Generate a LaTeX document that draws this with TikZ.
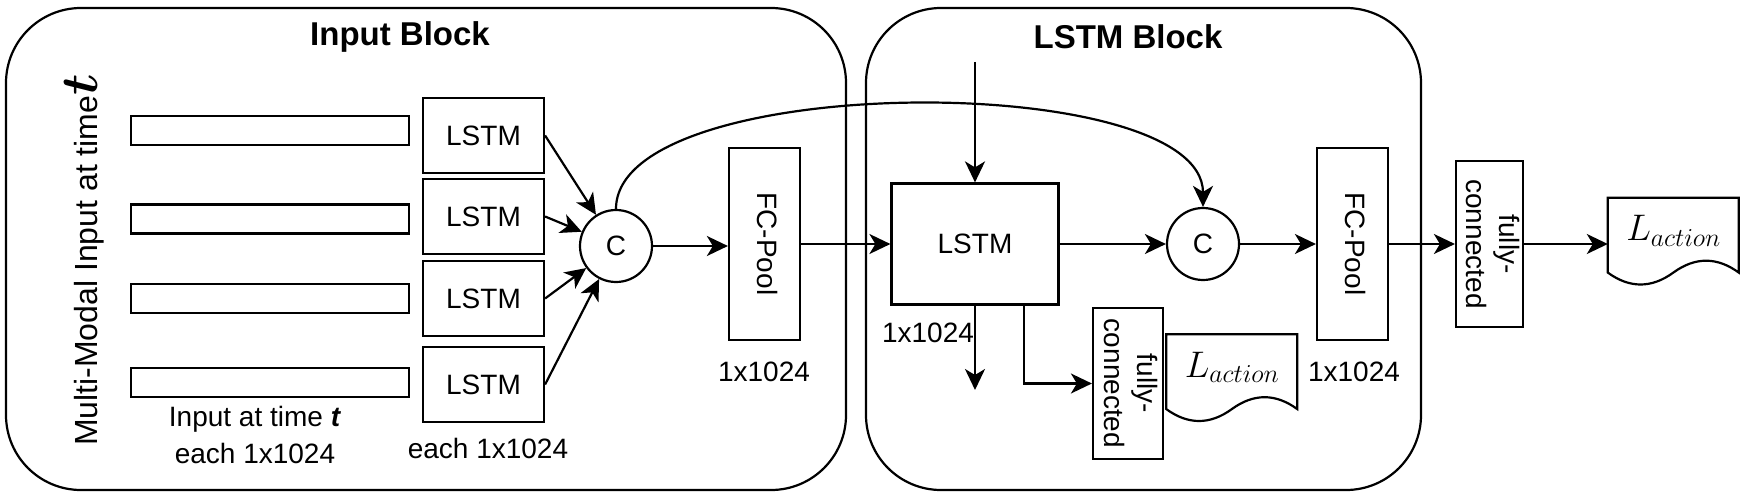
\RequirePackage{fix-cm}
\documentclass[tikz,border=0pt]{standalone}
\usepackage{bm}
\usepackage{fontspec}
\setmainfont{Liberation Sans}
\usepackage{graphicx}
\usetikzlibrary{arrows.meta,calc}

\tikzset{
  lw/.style={line width=2.2pt},
  txt/.style={font=\fontsize{28}{33}\selectfont, inner sep=0pt},
  box/.style={draw, lw, fill=white, inner sep=0pt, font=\fontsize{28}{33}\selectfont, align=center},
  bar/.style={draw, lw, fill=white, inner sep=0pt, minimum width=278pt, minimum height=29pt},
  lbox/.style={box, minimum width=121pt, minimum height=75pt},
  circ/.style={draw, lw, circle, fill=white, inner sep=0pt, minimum size=72pt, font=\fontsize{28}{33}\selectfont},
  blk/.style={draw, lw, rounded corners=75pt, inner sep=0pt},
  arr/.style={lw, -{Stealth[length=21pt,width=20pt,inset=6pt]}},
  ttl/.style={font=\fontsize{33}{40}\selectfont\bfseries, inner sep=0pt},
  docnode/.style={inner sep=0pt, minimum width=131pt, minimum height=88pt},
  mathlbl/.style={font=\fontsize{37}{44}\selectfont, inner sep=0pt},
}
\newcommand\docframe[1]{\draw[lw,fill=white,shift={(#1.north west)}] (0,0) -- (131,0) -- (131,74.8) .. controls (109.17,58.93) and (87.33,58.93) .. (65.5,74.8) .. controls (43.67,90.67) and (21.83,90.67) .. (0,74.8) -- cycle;}
\newcommand\rot[1]{\rotatebox{-90}{\begin{tabular}{@{}c@{}}#1\end{tabular}}}

\begin{document}
\begin{tikzpicture}[x=1pt,y=-1pt]
\useasboundingbox (0,0) rectangle (1745,495);
\fill[white] (0,0) rectangle (1745,495);

% blocks
\node[blk, minimum width=840pt, minimum height=482pt] (inblk) at (426,249) {};
\node[blk, minimum width=555pt, minimum height=482pt] (lsblk) at (1143.5,249) {};
\node[ttl] (t1) at (400,37) {Input Block};
\node[ttl] (t2) at (1128,37) {LSTM Block};

% side label
\node[rotate=90, anchor=base, font=\fontsize{32}{38}\selectfont, inner sep=0pt] (mm) at (97,260)
  {Multi-Modal Input at time{\fontsize{52}{52}\selectfont$\bm{t}$}};

% input bars
\node[bar] (b1) at (270,130.5) {};
\node[bar] (b2) at (270,219) {};
\node[bar] (b3) at (270,298.5) {};
\node[bar] (b4) at (270,382.5) {};
\node[txt] (in1) at (255,419) {Input at time \textbf{\textit{t}}};
\node[txt] (in2) at (255,453) {each 1x1024};

% LSTM boxes
\node[lbox] (l1) at (483.5,135.5) {LSTM};
\node[lbox] (l2) at (483.5,216.5) {LSTM};
\node[lbox] (l3) at (483.5,298.5) {LSTM};
\node[lbox] (l4) at (483.5,384.5) {LSTM};
\node[txt] (e1) at (488,448) {each 1x1024};

% concat 1
\node[circ] (c1) at (616,246) {C};
\foreach \i in {1,2,3,4} \draw[arr] (l\i.east) -- (c1);

% FC-Pool 1
\node[box, minimum width=71pt, minimum height=192pt] (fp1) at (764.5,244) {\rot{FC-Pool}};
\node[txt] (s1) at (764,372) {1x1024};
\draw[arr] (c1.east) -- (c1.east -| fp1.west);

% LSTM block
\node[box, minimum width=167pt, minimum height=121pt] (lstm) at (975,244) {LSTM};
\coordinate (top) at (975,62);
\draw[arr] (top) -- (top |- lstm.north);
\draw[arr] (fp1.east) -- (fp1.east -| lstm.west);

\node[circ] (c2) at (1203,244) {C};
\draw[arr] (lstm.east) -- (c2.west);

\node[box, minimum width=71pt, minimum height=192pt] (fp2) at (1352.5,244) {\rot{FC-Pool}};
\node[txt] (s2) at (1354,372) {1x1024};
\draw[arr] (c2.east) -- (fp2.west);

% lower branch
\coordinate (dn) at (975,390);
\draw[arr] (lstm.south) -- (dn);
\node[txt] (s3) at (928,333) {1x1024};
\node[box, minimum width=70pt, minimum height=151pt] (fcA) at (1128,383.5) {\rot{fully-\\connected}};
\draw[arr] ($(lstm.south)+(49,0)$) |- (fcA.west);

\node[docnode] (d1) at (1232,378.5) {};
\docframe{d1}
\node[mathlbl] (la1) at ($(d1.north)+(0,33)$) {$L_{action}$};

% output
\node[box, minimum width=67pt, minimum height=166pt] (fcB) at (1489.5,244) {\rot{fully-\\connected}};
\draw[arr] (fp2.east) -- (fcB.west);

\node[docnode] (d2) at (1673.5,242) {};
\docframe{d2}
\node[mathlbl] (la2) at ($(d2.north)+(0,33)$) {$L_{action}$};
\draw[arr] (fcB.east) -- (fcB.east -| d2.west);

% skip connection
\draw[arr] (c1.north) .. controls ($(c1.north)+(0,-138)$) and ($(c2.north)+(0,-138)$) .. (c2.north);
\end{tikzpicture}
\end{document}
